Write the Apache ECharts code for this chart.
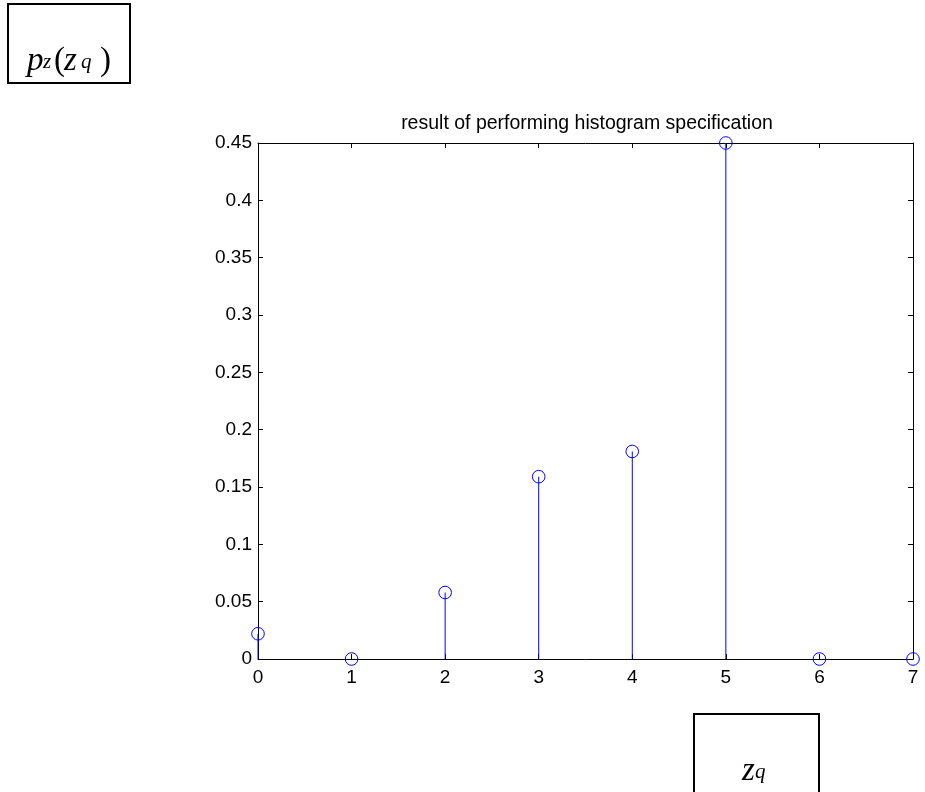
<!DOCTYPE html>
<html>
<head>
<meta charset="utf-8">
<style>
  html, body { margin: 0; padding: 0; background: #fff; }
  #chart { width: 925px; height: 792px; }
</style>
<script src="https://cdn.jsdelivr.net/npm/echarts@6/dist/echarts.min.js"></script>
</head>
<body>
<div id="chart"></div>
<script>
// ---- data ----
const categories = [0, 1, 2, 3, 4, 5, 6, 7];
const values = [0.022, 0, 0.058, 0.159, 0.181, 0.45, 0, 0];
const titleText = 'result of performing histogram specification';
const xMin = 0, xMax = 7, xStep = 1;
const yMin = 0, yMax = 0.45, yStep = 0.05;

const stemData = categories.map((c, i) => [c, values[i]]);

const chart = echarts.init(document.getElementById('chart'), null, { renderer: 'canvas' });

const FONT = '"Liberation Sans", Arial, sans-serif';
const MATH = '"Liberation Serif", "DejaVu Serif", serif';
const BLUE = '#0000ff';

const tickCommon = { show: true, inside: true, length: 5, lineStyle: { color: '#000', width: 1 } };
const lineCommon = { show: true, onZero: false, lineStyle: { color: '#000', width: 1 } };

function mathT(x, baseline, txt, size, italic) {
  return {
    type: 'text', x: x, y: baseline, z: 100,
    style: { text: txt, fontFamily: MATH, fontSize: size, fontStyle: italic ? 'italic' : 'normal',
             fill: '#000', textBaseline: 'alphabetic', textAlign: 'left' }
  };
}

const option = {
  animation: false,
  backgroundColor: '#fff',
  title: {
    text: titleText,
    left: 582, top: 109, textAlign: 'center',
    textStyle: { fontFamily: FONT, fontSize: 19.5, fontWeight: 'normal', color: '#000' }
  },
  grid: { left: 258, top: 143, right: 12, bottom: 133, containLabel: false },
  xAxis: [
    {
      type: 'value', position: 'bottom', min: xMin, max: xMax, interval: xStep,
      axisLine: lineCommon, axisTick: tickCommon, splitLine: { show: false },
      axisLabel: { show: true, margin: 9, color: '#000', fontFamily: FONT, fontSize: 19 }
    },
    {
      type: 'value', position: 'top', min: xMin, max: xMax, interval: xStep,
      axisLine: lineCommon, axisTick: tickCommon, splitLine: { show: false },
      axisLabel: { show: false }
    }
  ],
  yAxis: [
    {
      type: 'value', position: 'left', min: yMin, max: yMax, interval: yStep,
      axisLine: lineCommon, axisTick: tickCommon, splitLine: { show: false },
      axisLabel: { show: true, margin: 6, color: '#000', fontFamily: FONT, fontSize: 19,
                   formatter: v => String(+v.toFixed(2)),
                   padding: [6, 0, 0, 0] }
    },
    {
      type: 'value', position: 'right', min: yMin, max: yMax, interval: yStep,
      axisLine: lineCommon, axisTick: tickCommon, splitLine: { show: false },
      axisLabel: { show: false }
    }
  ],
  series: [
    {
      type: 'custom',
      xAxisIndex: 0, yAxisIndex: 0,
      clip: false,
      z: 5,
      data: stemData,
      renderItem: function (params, api) {
        const x = api.value(0), y = api.value(1);
        const p0 = api.coord([x, 0]);
        const p1 = api.coord([x, y]);
        return {
          type: 'group',
          children: [
            { type: 'line', shape: { x1: p0[0], y1: p0[1], x2: p1[0], y2: p1[1] },
              style: { stroke: BLUE, lineWidth: 1 } },
            { type: 'circle', shape: { cx: p1[0], cy: p1[1], r: 6.3 },
              style: { fill: null, stroke: BLUE, lineWidth: 1 } }
          ]
        };
      }
    }
  ],
  graphic: [
    { type: 'rect', shape: { x: 8, y: 4, width: 122, height: 79 },
      style: { fill: '#fff', stroke: '#000', lineWidth: 2 }, z: 90 },
    mathT(27, 45, 'p', 33, true),
    mathT(43, 52, 'z', 21, true),
    mathT(54, 45, '(', 33, false),
    mathT(64, 45, 'z', 33, true),
    mathT(81, 52, 'q', 21, true),
    mathT(100, 45, ')', 33, false),
    { type: 'rect', shape: { x: 694, y: 714, width: 125, height: 100 },
      style: { fill: '#fff', stroke: '#000', lineWidth: 2 }, z: 90 },
    mathT(742, 755, 'z', 33, true),
    mathT(755, 762, 'q', 21, true)
  ]
};

chart.setOption(option);
</script>
</body>
</html>
